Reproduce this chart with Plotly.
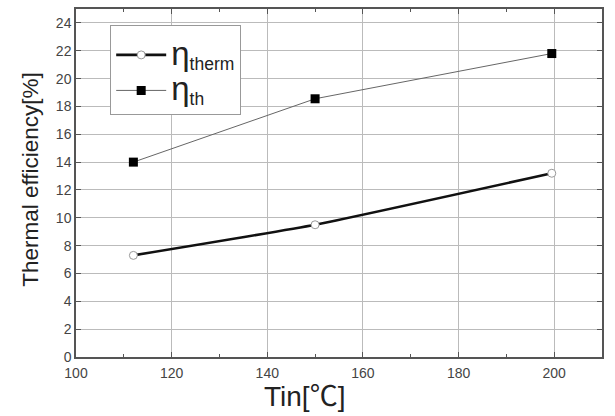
import plotly.graph_objects as go

tin = [112, 150, 199.5]
eta_therm = [7.3, 9.5, 13.2]
eta_th = [14.0, 18.55, 21.8]
x_ticks = [100, 120, 140, 160, 180, 200]
y_ticks = list(range(0, 25, 2))
series_names = ["therm", "th"]

FONT = "Liberation Sans, Arial, Noto Sans CJK KR"

def legend_name(sub):
    return "<span style='font-size:33px'>η</span><sub>" + sub + "</sub>"

fig = go.Figure()
fig.add_trace(go.Scatter(
    x=tin, y=eta_therm, mode="lines+markers", name=legend_name(series_names[0]),
    line=dict(color="#111111", width=2.6, shape="spline", smoothing=0.4),
    marker=dict(symbol="circle", size=8, color="white", line=dict(color="#999999", width=1)),
))
fig.add_trace(go.Scatter(
    x=tin, y=eta_th, mode="lines+markers", name=legend_name(series_names[1]),
    line=dict(color="#666666", width=1),
    marker=dict(symbol="square", size=9, color="black", line=dict(width=0)),
))

axis_common = dict(
    showline=True, linecolor="#555555", linewidth=1.5, mirror="allticks",
    ticks="inside", ticklen=5, tickcolor="#555555",
    showgrid=True, gridcolor="#bbbbbb", gridwidth=1, zeroline=False,
    tickfont=dict(family=FONT, size=14, color="#444444"),
)
fig.update_xaxes(
    range=[100, 210], tickvals=x_ticks, ticklabelstandoff=2,
    minor=dict(ticks="inside", ticklen=3, tickcolor="#555555", dtick=10, tick0=110, showgrid=False),
    **axis_common,
)
fig.update_yaxes(
    range=[0, 25], tickvals=y_ticks,
    **axis_common,
)
fig.add_annotation(
    text="Tin[℃]", xref="paper", yref="paper", x=0.435, y=-0.114,
    xanchor="center", yanchor="middle", showarrow=False,
    font=dict(family=FONT, size=28, color="#222222"),
)
fig.add_annotation(
    text="Thermal efficiency[%]", xref="paper", yref="paper", x=0, y=0.509,
    xshift=-45, textangle=-90, xanchor="center", yanchor="middle", showarrow=False,
    font=dict(family=FONT, size=22.5, color="#222222"),
)
fig.update_layout(
    width=615, height=416,
    margin=dict(l=76, r=13, t=7, b=59),
    paper_bgcolor="white", plot_bgcolor="white",
    showlegend=True,
    legend=dict(
        x=0.065, y=0.955, xanchor="left", yanchor="top",
        bgcolor="white", bordercolor="#999999", borderwidth=1,
        font=dict(family=FONT, size=25, color="#222222"),
        title=dict(text=" ", font=dict(size=5)),
        tracegroupgap=0, itemwidth=50,
    ),
)
fig.write_html("out.html")
